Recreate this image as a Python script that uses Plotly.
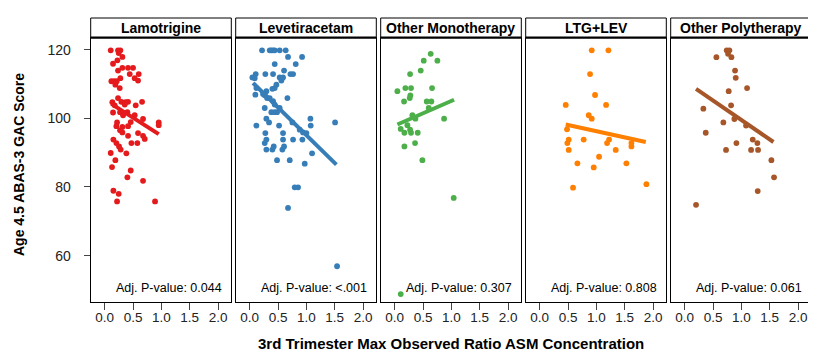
import plotly.graph_objects as go

# ---------------- data ----------------
groups = ["Lamotrigine", "Levetiracetam", "Other Monotherapy", "LTG+LEV", "Other Polytherapy"]
colors = ["#e41a1c", "#377eb8", "#4daf4a", "#ff7f00", "#a65628"]
pvalues = ["Adj. P-value: 0.044", "Adj. P-value: <.001", "Adj. P-value: 0.307",
           "Adj. P-value: 0.808", "Adj. P-value: 0.061"]

lam_x = [0.106, 0.235, 0.276, 0.247, 0.224, 0.312, 0.147, 0.312, 0.412, 0.5, 0.235, 0.441, 0.6,
         0.276, 0.529, 0.118, 0.165, 0.212, 0.588, 0.188, 0.265, 0.235, 0.135, 0.294, 0.365, 0.412,
         0.659, 0.176, 0.353, 0.547, 0.147, 0.271, 0.4, 0.324, 0.529, 0.676, 0.218, 0.459, 0.953,
         0.953, 0.206, 0.312, 0.412, 0.271, 0.312, 0.588, 0.412, 0.676, 0.706, 0.153, 0.206, 0.471,
         0.576, 0.253, 0.282, 0.106, 0.382, 0.188, 0.129, 0.459, 0.4, 0.676, 0.153, 0.247, 0.218, 0.888]
lam_y = [119.8, 119.8, 119.8, 119.0, 116.9, 117.9, 115.9, 114.7, 114.7, 114.7, 113.9, 112.9, 112.9,
         111.7, 111.7, 110.8, 110.8, 110.8, 111.0, 109.8, 108.8, 105.9, 104.7, 104.8, 104.7, 104.8,
         104.8, 103.8, 104.0, 103.8, 101.7, 101.8, 101.8, 100.9, 100.9, 99.8, 98.8, 98.9, 98.8,
         98.0, 97.7, 97.5, 97.7, 96.5, 95.9, 95.7, 94.9, 94.9, 94.0, 93.8, 92.8, 92.8,
         92.8, 91.8, 90.9, 89.9, 89.8, 87.8, 85.8, 84.8, 82.8, 81.8, 78.9, 78.0, 75.8, 75.8]

lev_x = [0.218, 0.353, 0.382, 0.412, 0.441, 0.529, 0.635, 0.676, 0.924, 0.441, 0.812, 0.606, 0.276,
         0.412, 0.718, 0.765, 0.106, 0.047, 0.088, 0.529, 0.588, 0.559, 0.471, 0.441, 0.4, 0.118,
         0.294, 0.235, 0.1, 0.265, 0.306, 0.353, 0.665, 0.412, 0.441, 0.265, 0.529, 0.382, 0.441,
         0.482, 1.071, 0.294, 0.341, 0.753, 0.118, 0.518, 1.076, 1.506, 0.882, 0.941, 1.0, 0.276,
         0.588, 0.294, 0.265, 0.765, 0.929, 0.588, 0.424, 0.294, 0.4, 0.576, 0.606, 1.1, 0.482,
         0.706, 0.971, 0.794, 0.853, 0.676, 1.541]
lev_y = [119.8, 119.8, 119.8, 119.8, 119.8, 119.8, 119.8, 117.9, 117.9, 115.8, 115.8, 113.9, 112.9,
         112.9, 112.9, 112.9, 112.9, 111.9, 111.7, 111.9, 111.9, 111.0, 109.8, 108.8, 108.6, 108.8,
         107.9, 107.1, 106.9, 106.7, 105.9, 105.9, 105.9, 105.0, 104.0, 103.0, 103.0, 101.8, 101.8,
         101.8, 99.9, 99.9, 98.8, 98.8, 97.9, 97.9, 97.9, 98.8, 96.7, 95.9, 95.7, 95.7,
         95.7, 93.8, 92.8, 93.8, 93.8, 93.8, 91.8, 90.9, 90.9, 90.9, 91.8, 89.8, 87.8,
         87.8, 86.8, 79.9, 79.9, 73.9, 56.9]

oth_x = [0.635, 0.512, 0.753, 0.459, 0.271, 0.047, 0.188, 0.288, 0.659, 0.276, 0.265, 0.165, 0.565,
         0.647, 0.6, 0.312, 0.365, 0.871, 0.224, 0.106, 0.271, 0.171, 0.288, 0.406, 0.359, 0.171,
         0.488, 1.041, 0.106]
oth_y = [118.8, 116.8, 116.8, 113.9, 112.9, 107.9, 108.8, 108.8, 108.8, 106.7, 105.9, 104.9, 104.9,
         104.9, 103.0, 100.9, 99.9, 99.9, 98.0, 96.9, 96.7, 95.8, 95.8, 95.8, 92.8, 91.8,
         87.8, 76.8, 48.8]

ll_x = [0.918, 1.212, 0.888, 0.976, 0.459, 1.171, 0.865, 0.918, 0.482, 0.512, 0.488, 0.776, 1.224,
        1.188, 1.618, 1.618, 0.512, 1.341, 1.047, 0.665, 1.529, 0.953, 1.882, 0.588]
ll_y = [119.8, 119.8, 112.9, 106.8, 103.9, 103.9, 100.9, 99.9, 96.8, 93.8, 92.8, 93.8, 93.8,
        92.8, 92.8, 91.8, 90.8, 90.8, 88.8, 86.9, 86.9, 85.7, 80.8, 79.8]

op_x = [0.741, 0.788, 0.765, 0.559, 0.824, 0.888, 0.9, 1.1, 0.776, 0.329, 0.818, 0.682, 0.876,
        1.082, 0.371, 1.2, 0.912, 1.282, 0.729, 1.171, 1.294, 1.529, 1.576, 1.288, 0.2]
op_y = [119.8, 119.8, 118.8, 117.8, 117.8, 113.9, 111.8, 108.8, 107.9, 102.8, 103.8, 98.8, 99.8,
        97.9, 95.8, 93.8, 92.8, 92.8, 90.8, 90.8, 90.8, 87.8, 82.8, 78.8, 74.8]

# fitted regression line endpoints
fit_x = [[0.118, 0.953], [0.059, 1.529], [0.047, 1.047], [0.459, 1.871], [0.2, 1.565]]
fit_y = [[104.2, 95.4], [110.3, 86.5], [98.2, 105.4], [98.2, 93.1], [108.6, 93.1]]

xs = [lam_x, lev_x, oth_x, ll_x, op_x]
ys = [lam_y, lev_y, oth_y, ll_y, op_y]

x_ticks = [0.0, 0.5, 1.0, 1.5, 2.0]
x_ticklabels = ["0.0", "0.5", "1.0", "1.5", "2.0"]
y_ticks = [60, 80, 100, 120]

# ---------------- layout ----------------
W, H = 816, 360
FONT = "Liberation Sans, Arial, sans-serif"
panel_left = [82.7, 227.7, 372.7, 517.7, 662.7]
panel_w = 140.6
top_px, bot_px = 30.0, 294.3
head_top = 10.0

fig = go.Figure()
annotations = []
shapes = []
for i in range(5):
    n = "" if i == 0 else str(i + 1)
    fig.add_trace(go.Scatter(x=xs[i], y=ys[i], mode="markers",
                             marker=dict(color=colors[i], size=5.8, line=dict(width=0)),
                             xaxis="x" + n, yaxis="y" + n, showlegend=False, hoverinfo="x+y"))
    fig.add_trace(go.Scatter(x=fit_x[i], y=fit_y[i], mode="lines",
                             line=dict(color=colors[i], width=4),
                             xaxis="x" + n, yaxis="y" + n, showlegend=False, hoverinfo="skip"))
    x0 = panel_left[i] / W
    x1 = (panel_left[i] + panel_w) / W
    fig.layout["xaxis" + n] = dict(
        domain=[x0, x1], range=[-0.247, 2.233], anchor="y" + n,
        tickmode="array", tickvals=x_ticks, ticktext=x_ticklabels,
        ticks="outside", ticklen=7, tickcolor="#444", tickwidth=1,
        ticklabelstandoff=-5,
        showline=True, mirror=True, linecolor="black", linewidth=1,
        showgrid=False, zeroline=False,
        tickfont=dict(family=FONT, size=13.5, color="#222"),
    )
    fig.layout["yaxis" + n] = dict(
        domain=[1 - bot_px / H, 1 - top_px / H], range=[46.4, 123.4], anchor="x" + n,
        tickmode="array", tickvals=y_ticks,
        ticks="outside" if i == 0 else "", ticklen=6, tickcolor="#444",
        ticklabelstandoff=10,
        showticklabels=(i == 0),
        showline=True, mirror=True, linecolor="black", linewidth=1,
        showgrid=False, zeroline=False,
        tickfont=dict(family=FONT, size=14, color="#222"),
    )
    # header strip
    shapes.append(dict(type="rect", xref="paper", yref="paper", x0=x0, x1=x1,
                       y0=1 - top_px / H, y1=1 - head_top / H,
                       line=dict(color="black", width=1), fillcolor="white"))
    shapes.append(dict(type="line", xref="paper", yref="paper", x0=x0, x1=x1,
                       y0=1 - (top_px - 0.5) / H, y1=1 - (top_px - 0.5) / H,
                       line=dict(color="black", width=2)))
    annotations.append(dict(text=f"<b>{groups[i]}</b>", xref="paper", yref="paper",
                            x=(x0 + x1) / 2, y=1 - (head_top + top_px) / 2 / H,
                            xanchor="center", yanchor="middle", showarrow=False,
                            font=dict(family=FONT, size=14, color="black")))
    annotations.append(dict(text=pvalues[i], xref="paper", yref="paper",
                            x=x1 - 7 / W, y=1 - 279.5 / H, xanchor="right", yanchor="middle",
                            showarrow=False, font=dict(family=FONT, size=12.5, color="black")))

annotations.append(dict(text="<b>3rd Trimester Max Observed Ratio ASM Concentration</b>",
                        xref="paper", yref="paper", x=443 / W, y=1 - 335 / H,
                        xanchor="center", yanchor="middle", showarrow=False,
                        font=dict(family=FONT, size=15, color="black")))
annotations.append(dict(text="<b>Age 4.5 ABAS-3 GAC Score</b>", textangle=-90,
                        xref="paper", yref="paper", x=11 / W, y=1 - 157 / H,
                        xanchor="center", yanchor="middle", showarrow=False,
                        font=dict(family=FONT, size=14, color="black")))

fig.update_layout(width=W, height=H, margin=dict(l=0, r=0, t=0, b=0),
                  paper_bgcolor="white", plot_bgcolor="white",
                  annotations=annotations, shapes=shapes, showlegend=False)

fig.write_html("out.html")
